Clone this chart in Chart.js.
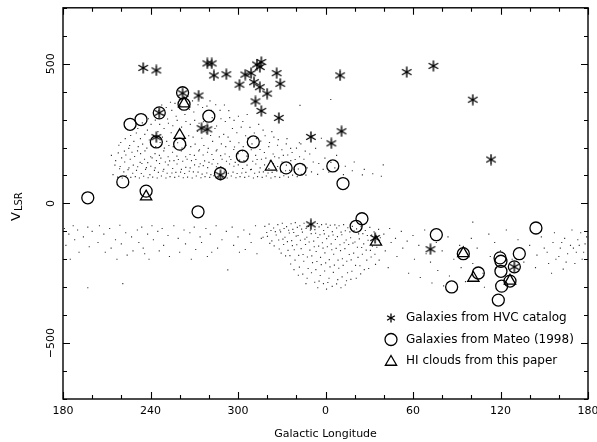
<!DOCTYPE html>
<html><head><meta charset="utf-8">
<script src="https://cdn.jsdelivr.net/npm/chart.js@4/dist/chart.umd.min.js"></script>
<style>html,body{margin:0;padding:0;background:#fff}#wrap{width:597px;height:442px}</style>
</head><body><div id="wrap"><canvas id="c" width="597" height="442"></canvas></div>
<script>
// ---- axis ticks ----
const xTickValues = [180, 240, 300, 360, 420, 480, 540];
const xTickLabels = ["180", "240", "300", "0", "60", "120", "180"];
const yTickValues = [-500, 0, 500];
const yTickLabels = ["\u2212500", "0", "500"];

// ---- series: [galactic longitude (deg), V_LSR (km/s)] ----
const hvcGalaxies = [
  [235,485],[244,476],[279,501],[282,501],[283.5,458],[292,462],[305,461],[309,466],
  [313,497],[316,506],[315,488],[326.5,466],[329,428],[301,425],[311,434],[315,416],
  [320,393],[312,365],[316,331],[328,306],[273,386],[262,394],[246,324],[244,237],
  [275,269],[279,265],[288,101],[10,458],[55.7,470],[74,492],[101,371],[113.5,157],
  [350,238],[4,215],[11,258],[350,-75],[34,-124],[72,-164],[129.5,-227]
];
const mateoGalaxies = [
  [197,20],[221,77],[226,283],[233.5,300],[246,324],[244,220],[237,44],[262,396],
  [263,355],[260,212],[272.6,-30],[280,312],[288,107],[303,169],[310.5,220],[333,127],
  [342.5,122],[5,134],[12,71],[25,-55],[21,-82],[76,-112],[94.5,-180],[104.8,-249],
  [86.5,-299],[119.7,-195],[120.3,-207],[120.3,-243],[120.8,-296],[118.5,-346],
  [132.9,-180],[129.5,-227],[126.5,-278],[144.3,-88]
];
const hiClouds = [
  [237,24],[260,244],[263,357],[322.6,131],[34.6,-138],[94.5,-179],[101.4,-267],[126.5,-277]
];
const hvcFieldUpper = [
  [214.3,103],[215.6,137],[213.2,172],
  [217.4,94],[218.8,124],[216.1,153],[217.9,181],[218.3,208],
  [220.6,91],[221.7,113],[219.2,132],[220.2,163],[222.1,187],[219.6,218],
  [223.4,99],[224.6,121],[222.3,148],[223.1,173],[225.1,197],[222.7,232],
  [226.5,93],[227.8,108],[225.2,127],[226.1,158],[227.3,183],[225.7,207],[226.4,243],
  [229.6,96],[230.4,118],[228.2,137],[229.1,168],[231.1,188],[228.6,222],[230.3,252],
  [232.4,91],[233.7,107],[231.2,131],[232.9,147],[233.2,178],[231.6,203],[233.1,232],[231.3,268],
  [235.3,97],[236.6,122],[234.1,143],[235.9,158],[236.2,188],[234.6,212],[236.1,247],[234.4,288],
  [238.4,92],[239.6,103],[237.2,128],[238.1,146],[240.1,167],[237.5,198],[239.2,227],[237.9,262],[238.6,303],
  [241.5,94],[242.7,118],[240.2,133],[241.1,163],[243.1,178],[240.6,208],[242.1,242],[240.4,283],[242.6,312],
  [244.6,91],[245.4,111],[243.2,127],[244.1,153],[246.1,172],[243.6,203],[245.1,257],[243.3,298],[245.7,332],
  [247.5,98],[248.6,115],[246.2,143],[247.1,162],[249.1,188],[246.6,218],[248.2,237],[246.3,283],[248.6,318],[247.7,352],
  [250.6,91],[251.4,108],[249.1,122],[250.2,148],[252.1,167],[249.5,198],[251.1,222],[249.3,268],[251.7,302],[250.8,343],
  [253.4,96],[254.7,109],[252.1,138],[253.1,152],[255.1,183],[252.6,207],[254.2,253],[252.3,287],[254.6,333],[253.7,362],
  [256.6,93],[257.4,111],[255.2,125],[256.1,153],[258.1,169],[255.6,203],[257.2,232],[255.3,278],[257.6,312],[256.8,358],
  [259.4,97],[260.6,112],[258.2,141],[259.1,157],[261.1,188],[258.6,217],[260.2,263],[258.3,297],[260.7,348],[259.8,372],
  [262.5,92],[263.4,107],[261.2,122],[262.1,151],[264.1,167],[261.6,198],[263.2,227],[261.3,273],[263.6,318],
  [265.4,94],[266.6,115],[264.2,129],[265.1,158],[267.1,175],[264.6,208],[266.2,242],[264.3,293],[266.7,337],[265.7,383],
  [268.6,91],[269.4,113],[267.2,127],[268.1,153],[270.1,172],[267.6,203],[269.2,237],[267.3,283],[269.7,327],[268.8,367],
  [271.4,98],[272.6,112],[270.2,138],[271.1,157],[273.1,188],[270.6,212],[272.2,258],[270.3,297],[272.6,353],
  [274.6,92],[275.4,105],[273.2,131],[274.1,142],[276.1,173],[273.6,192],[275.2,233],[273.3,287],[275.7,343],[274.8,377],
  [277.4,96],[278.6,109],[276.2,135],[277.1,152],[279.1,183],[276.6,207],[278.2,253],[276.3,292],[278.7,348],
  [280.6,93],[281.4,103],[279.2,128],[280.1,147],[282.1,175],[279.6,197],[281.2,243],[279.3,277],[281.7,333],[280.8,367],
  [283.4,99],[284.6,112],[282.2,141],[283.1,157],[285.1,188],[282.6,222],[284.2,268],[282.3,307],[284.7,353],
  [286.6,92],[287.4,105],[285.2,131],[286.1,142],[288.1,171],[285.6,192],[287.2,238],[285.3,277],[287.7,333],
  [289.4,94],[290.6,115],[288.2,132],[289.1,158],[291.1,177],[288.6,213],[290.2,247],[288.3,303],[290.7,352],
  [292.6,91],[293.4,108],[291.2,122],[292.1,151],[294.1,167],[291.6,203],[293.2,237],[291.3,293],[293.7,332],
  [295.4,98],[296.6,112],[294.2,141],[295.1,157],[297.1,193],[294.6,222],[296.2,268],[294.3,307],
  [298.6,92],[299.4,107],[297.2,133],[298.1,147],[300.1,178],[297.6,202],[299.2,253],[297.3,297],
  [301.4,96],[302.6,109],[300.2,138],[301.1,155],[303.1,188],[300.6,217],[302.2,273],[300.3,312],
  [304.6,93],[305.4,111],[303.2,125],[304.1,153],[306.1,169],[303.6,203],[305.2,242],[303.3,293],
  [307.4,97],[308.6,121],[306.2,137],[307.1,168],[309.1,192],[306.6,233],[308.2,272],[306.3,318],
  [310.6,91],[311.4,108],[309.2,122],[310.1,151],[312.1,172],[309.6,213],[311.2,252],
  [313.4,96],[314.6,112],[312.2,141],[313.1,157],[315.1,193],[312.6,232],[314.2,283],
  [316.6,93],[317.4,113],[315.2,127],[316.1,158],[318.1,182],[315.6,223],[317.2,262],
  [319.4,98],[320.6,109],[318.2,138],[319.1,162],[321.1,203],[318.6,242],
  [322.6,91],[323.4,111],[321.2,125],[322.1,153],[324.1,177],[321.6,218],[323.2,257],
  [325.4,96],[326.6,115],[324.2,143],[325.1,167],[327.1,208],[324.6,237],
  [328.6,93],[329.4,113],[327.2,132],[328.1,163],[330.1,192],[327.6,228],
  [331.4,99],[332.6,117],[330.2,148],[331.1,172],[333.1,213],
  [334.6,94],[335.4,118],[333.2,137],[334.1,173],[336.1,197],[333.6,232],
  [337.4,101],[338.6,122],[336.2,153],[337.1,182],
  [340.6,96],[341.4,123],[339.2,157],[340.1,198],[342.1,217],
  [343.4,104],[344.6,138],[342.2,167],[343.1,213],
  [346.6,101],[347.4,127],[345.2,158],[346.1,187],
  [350.4,113],[351.6,148],[349.2,177],[350.9,243],
  [354.6,104],[355.4,143],[353.2,197],[358.4,122],[359.6,162],[357.2,233],
  [2.3,112],[3.7,147],[6.4,127],[7.6,172],[12.3,103],[13.6,133],[18.4,117],[19.7,148],
  [25.3,102],[26.6,122],[32.4,106],[38.3,97],[39.6,138],[3.6,372],[342.5,351]
];
const hvcFieldLower = [
  [181,-90],[182,-150],[184,-110],[185,-200],[187,-80],[188,-130],[190,-95],[191,-175],
  [194,-120],[197,-85],[198,-155],[200,-100],[197,-302],[204,-140],[205,-80],[208,-110],
  [209,-175],[212,-90],[213,-160],[216,-130],[217,-200],[219,-78],[220,-145],[221,-287],
  [223,-105],[224,-185],[227,-120],[228,-170],[231,-95],[232,-140],[234,-85],[235,-160],
  [236,-180],[238,-110],[239,-200],[241,-80],[242,-130],[245,-100],[246,-170],[248,-90],
  [249,-150],[252,-115],[253,-190],[256,-80],[259,-125],[260,-175],[263,-95],[264,-145],
  [267,-105],[268,-200],[270,-85],[271,-165],[274,-120],[275,-140],[278,-90],[279,-190],
  [281,-110],[282,-175],[285,-80],[286,-160],[289,-130],[293,-238],[292,-100],[296,-85],
  [297,-150],[300,-120],[301,-175],[304,-95],[305,-165],[308,-110],[309,-140],[312,-80],
  [313,-180],[316,-125],
  [318.4,-82],[319.7,-104],[317.2,-121],
  [321.3,-74],[322.6,-97],[320.2,-118],[321.8,-143],
  [324.4,-88],[325.6,-101],[323.2,-134],[324.8,-152],
  [327.3,-76],[328.7,-95],[326.2,-113],[327.9,-131],[328.3,-163],
  [330.4,-71],[331.6,-90],[329.2,-102],[330.8,-128],[331.3,-147],[329.6,-178],
  [333.3,-83],[334.7,-96],[332.2,-121],[333.9,-137],[334.3,-168],[332.6,-188],
  [336.4,-73],[337.6,-93],[335.2,-106],[336.8,-133],[337.3,-151],[335.6,-187],[336.1,-217],
  [339.3,-69],[340.7,-86],[338.2,-104],[339.9,-117],[340.3,-148],[338.6,-166],[339.1,-203],[338.4,-237],
  [342.4,-80],[343.6,-92],[341.2,-115],[342.8,-132],[343.3,-162],[341.6,-186],[342.1,-228],[341.4,-257],
  [345.3,-71],[346.7,-90],[344.2,-103],[345.9,-128],[346.3,-147],[344.6,-183],[345.1,-207],[344.4,-253],[346.6,-287],
  [348.4,-82],[349.6,-96],[347.2,-121],[348.8,-138],[349.3,-167],[347.6,-192],[348.1,-233],[347.4,-268],
  [351.3,-73],[352.7,-94],[350.2,-108],[351.9,-135],[352.3,-155],[350.6,-188],[351.1,-212],[350.4,-248],[352.6,-282],
  [354.4,-72],[355.6,-84],[353.2,-107],[354.8,-122],[355.3,-153],[353.6,-172],[354.1,-208],[353.4,-237],[355.6,-278],[354.7,-302],
  [357.3,-76],[358.7,-97],[356.2,-112],[357.9,-141],[358.3,-160],[356.6,-193],[357.1,-219],[356.4,-258],[358.6,-287],
  [0.4,-74],[1.6,-86],[359.2,-109],[0.8,-126],[1.3,-155],[359.6,-177],[0.1,-213],[359.4,-242],[1.6,-283],[0.7,-307],
  [3.3,-78],[4.7,-101],[2.2,-117],[3.9,-145],[4.3,-166],[2.6,-201],[3.1,-227],[2.4,-268],[4.6,-297],
  [6.4,-77],[7.6,-88],[5.2,-113],[6.8,-129],[7.3,-161],[5.6,-182],[6.1,-221],[5.4,-247],[7.6,-288],
  [9.3,-80],[10.7,-103],[8.2,-119],[9.9,-148],[10.3,-169],[8.6,-203],[9.1,-232],[8.4,-273],[10.6,-302],
  [12.4,-76],[13.6,-98],[11.2,-112],[12.8,-141],[13.3,-162],[11.6,-198],[12.1,-222],[11.4,-263],[13.6,-292],
  [15.3,-87],[16.7,-102],[14.2,-131],[15.9,-147],[16.3,-183],[14.6,-207],[15.1,-248],[14.4,-277],
  [18.4,-82],[19.6,-98],[17.2,-123],[18.8,-142],[19.3,-178],[17.6,-202],[18.1,-243],[17.4,-272],
  [21.3,-91],[22.7,-109],[20.2,-138],[21.9,-157],[22.3,-193],[20.6,-222],[21.1,-268],
  [24.4,-83],[25.6,-108],[23.2,-127],[24.8,-158],[25.3,-182],[23.6,-223],[24.1,-252],
  [27.3,-97],[28.7,-115],[26.2,-145],[27.9,-167],[28.3,-203],[26.6,-237],
  [30.4,-86],[31.6,-113],[29.2,-132],[30.8,-168],[31.3,-192],[29.6,-233],
  [33.3,-102],[34.7,-122],[32.2,-153],[33.9,-182],[34.3,-218],
  [36.4,-93],[37.6,-123],[35.2,-157],[36.8,-203],
  [40,-110],[41,-170],[44,-90],[45,-140],[43,-230],[48,-125],[49,-190],[52,-100],[53,-160],
  [56,-135],[57,-250],[60,-115],[61,-200],[64,-150],[65,-265],[68,-95],[69,-180],[72,-210],
  [73,-285],[76,-140],[77,-240],[80,-170],[81,-295],[84,-120],[85,-260],[88,-200],[92,-150],
  [93,-230],[96,-280],[100,-125],[101,-215],[104,-160],[108,-250],[109,-300],[112,-110],
  [113,-190],[116,-140],[117,-230],[120,-170],[124,-95],[125,-260],[128,-200],[132,-130],
  [136,-210],[140,-150],[144,-230],[145,-185],[148,-120],[152,-175],[153,-215],[156,-140],
  [157,-105],[160,-190],[161,-160],[164,-125],[165,-210],[168,-150],[169,-95],[172,-175],
  [173,-130],[175,-105],[176,-200],[178,-145],[179,-120],[101,-67],[150,-160],[158,-200],
  [162,-140],[166,-180],[170,-160],[174,-150],[177,-175],[155,-250],[163,-235],[171,-215]
];
const legendLabels = ["Galaxies from HVC catalog", "Galaxies from Mateo (1998)", "HI clouds from this paper"];

// longitude 180..360 then 0..180 along the axis
const unwrap = l => (l < 180 ? l + 360 : l);
const toXY = arr => arr.map(([l, v]) => ({ x: unwrap(l), y: v }));

// asterisk marker
function makeStar(size, lw) {
  const c = document.createElement('canvas');
  c.width = size; c.height = size;
  const g = c.getContext('2d');
  const r = size / 2 - 0.5, cx = size / 2, cy = size / 2;
  g.strokeStyle = '#000'; g.lineWidth = lw; g.lineCap = 'butt';
  for (let k = 0; k < 3; k++) {
    const a = Math.PI / 2 + k * Math.PI / 3;
    g.beginPath();
    g.moveTo(cx + r * Math.cos(a), cy - r * Math.sin(a));
    g.lineTo(cx - r * Math.cos(a), cy + r * Math.sin(a));
    g.stroke();
  }
  return c;
}
const starImg = makeStar(12, 1.4);
const starLegend = makeStar(10, 1.3);

const FONT = '"DejaVu Sans", "Liberation Sans", sans-serif';

const framePlugin = {
  id: 'frame',
  afterDatasetsDraw(chart) {
    const { ctx, chartArea: a, scales: { x, y } } = chart;
    ctx.save();
    ctx.strokeStyle = '#000';
    ctx.fillStyle = '#000';
    ctx.lineWidth = 1.4;
    ctx.strokeRect(a.left, a.top, a.right - a.left, a.bottom - a.top);
    ctx.lineWidth = 1.1;
    ctx.beginPath();
    for (let v = x.min; v <= x.max + 0.01; v += 20) {
      const px = Math.round(x.getPixelForValue(v)) + 0.5;
      const len = xTickValues.includes(v) ? 7 : 4;
      ctx.moveTo(px, a.bottom); ctx.lineTo(px, a.bottom - len);
      ctx.moveTo(px, a.top); ctx.lineTo(px, a.top + len);
    }
    for (let v = y.min; v <= y.max + 0.01; v += 100) {
      const py = Math.round(y.getPixelForValue(v)) + 0.5;
      const len = yTickValues.includes(v) ? 7 : 4;
      ctx.moveTo(a.left, py); ctx.lineTo(a.left + len, py);
      ctx.moveTo(a.right, py); ctx.lineTo(a.right - len, py);
    }
    ctx.stroke();

    // x tick labels
    ctx.font = '11px ' + FONT;
    ctx.textAlign = 'center';
    ctx.textBaseline = 'middle';
    xTickValues.forEach((v, i) => ctx.fillText(xTickLabels[i], x.getPixelForValue(v), a.bottom + 12));
    // y tick labels (rotated)
    yTickValues.forEach((v, i) => {
      ctx.save();
      ctx.translate(a.left - 12, y.getPixelForValue(v));
      ctx.rotate(-Math.PI / 2);
      ctx.fillText(yTickLabels[i], 0, 0);
      ctx.restore();
    });
    // x title
    ctx.fillText('Galactic Longitude', (a.left + a.right) / 2, 434);
    // y title V_LSR
    ctx.save();
    ctx.translate(20, 221);
    ctx.rotate(-Math.PI / 2);
    ctx.textAlign = 'left';
    ctx.textBaseline = 'alphabetic';
    ctx.font = '13px ' + FONT;
    ctx.fillText('V', 0, 0);
    const w = ctx.measureText('V').width;
    ctx.font = '10px ' + FONT;
    ctx.fillText('LSR', w + 1, 1.5);
    ctx.restore();

    // legend
    const lx = 391, ly = [318, 339.5, 361], tx = 406;
    ctx.drawImage(starLegend, lx - 5, ly[0] - 5);
    ctx.save();
    ctx.fillStyle = 'rgba(0,0,0,0)';
    ctx.lineWidth = 1.3;
    Chart.helpers.drawPoint(ctx, { pointStyle: 'circle', radius: 6, rotation: 0, borderWidth: 1.3 }, lx, ly[1]);
    Chart.helpers.drawPoint(ctx, { pointStyle: 'triangle', radius: 6.5, rotation: 0, borderWidth: 1.3 }, lx, ly[2] + 1);
    ctx.restore();
    ctx.font = '12px ' + FONT;
    ctx.textAlign = 'left';
    ctx.textBaseline = 'middle';
    legendLabels.forEach((t, i) => ctx.fillText(t, tx, ly[i]));
    ctx.restore();
  }
};

new Chart(document.getElementById('c'), {
  type: 'scatter',
  data: {
    datasets: [
      { label: legendLabels[0], data: toXY(hvcGalaxies), pointStyle: starImg, pointRadius: 6 },
      { label: legendLabels[1], data: toXY(mateoGalaxies), pointStyle: 'circle', pointRadius: 6,
        borderColor: '#000', backgroundColor: 'rgba(0,0,0,0)', pointBorderWidth: 1.3 },
      { label: legendLabels[2], data: toXY(hiClouds), pointStyle: 'triangle', pointRadius: 6.5,
        borderColor: '#000', backgroundColor: 'rgba(0,0,0,0)', pointBorderWidth: 1.3 },
      { label: 'field', data: toXY(hvcFieldUpper), pointStyle: 'rect', pointRadius: 0.8,
        backgroundColor: '#333', borderWidth: 0, pointBorderWidth: 0 },
      { label: 'field2', data: toXY(hvcFieldLower), pointStyle: 'rect', pointRadius: 0.8,
        backgroundColor: '#333', borderWidth: 0, pointBorderWidth: 0 }
    ]
  },
  options: {
    responsive: false,
    animation: false,
    devicePixelRatio: 1,
    layout: { padding: { left: 63, right: 9, top: 7, bottom: 43 } },
    plugins: { legend: { display: false }, tooltip: { enabled: false } },
    scales: {
      x: { type: 'linear', min: 180, max: 540, display: false },
      y: { type: 'linear', min: -700, max: 700, display: false }
    }
  },
  plugins: [framePlugin]
});
</script>
</body></html>
